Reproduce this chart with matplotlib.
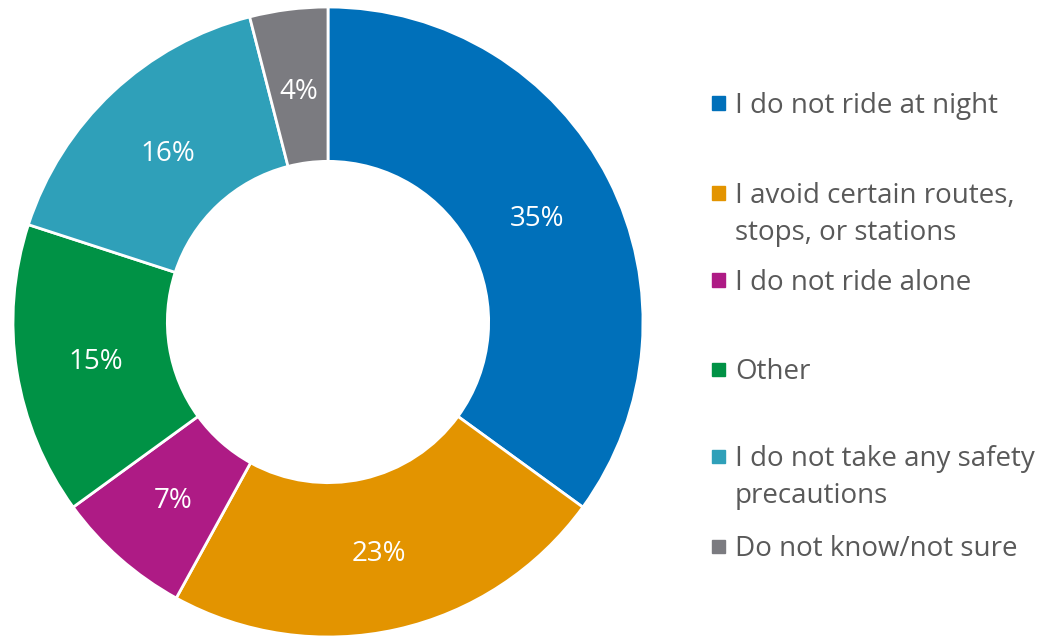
import matplotlib.pyplot as plt
from matplotlib.patches import Rectangle

plt.rcParams['font.family'] = ['Open Sans', 'DejaVu Sans']

categories = [
    "I do not ride at night",
    "I avoid certain routes,\nstops, or stations",
    "I do not ride alone",
    "Other",
    "I do not take any safety\nprecautions",
    "Do not know/not sure",
]
shares = [35, 23, 7, 15, 16, 4]
colors = ["#0070BA", "#E39400", "#AE1B85", "#009245", "#2FA0B9", "#7B7B80"]

W, H = 1046, 638
fig = plt.figure(figsize=(W / 100, H / 100), dpi=100)

# donut: centre (328, 322) px from top-left, outer radius 315 px
cx, cy, r = 328, 322, 315
ax = fig.add_axes([(cx - r) / W, (H - cy - r) / H, 2 * r / W, 2 * r / H])
wedges, texts, autotexts = ax.pie(
    shares, colors=colors, startangle=90, counterclock=False,
    radius=1, pctdistance=0.745,
    autopct=lambda p: f"{p:.0f}%",
    wedgeprops=dict(width=0.49, edgecolor="white", linewidth=2),
    textprops=dict(color="white", fontsize=20),
)
# labels sit a touch low in the ring
for t in autotexts:
    x, y = t.get_position()
    t.set_position((x, y - 0.01))
ax.set_xlim(-1, 1)
ax.set_ylim(-1, 1)
ax.axis("off")

# legend entries placed by hand (centre of first line, px from top)
legend_y = [103, 193, 280, 369, 456, 546]
for label, col, y in zip(categories, colors, legend_y):
    fig.patches.append(Rectangle((712 / W, (H - y - 6.5) / H), 13 / W, 13 / H,
                                 transform=fig.transFigure, color=col))
    fig.text(735 / W, (H - y + 11) / H, label, fontsize=20, color="#595959",
             va="top", ha="left", linespacing=1.42,
             transform=fig.transFigure)

fig.savefig("out.png", dpi=100)
